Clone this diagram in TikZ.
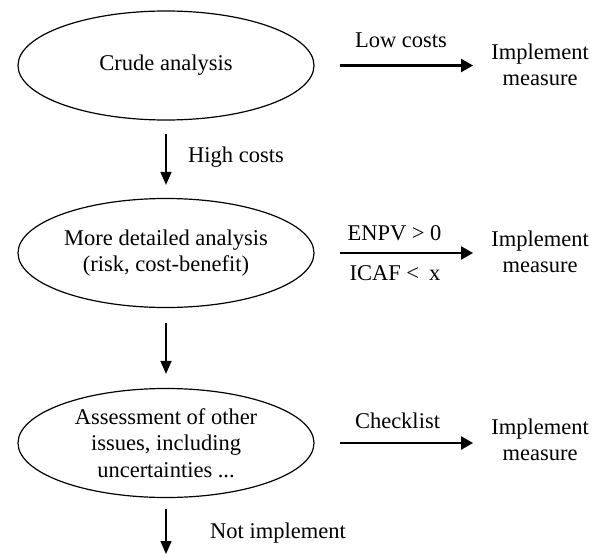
\documentclass[tikz,border=0pt]{standalone}
\usepackage{fontspec}
\setmainfont{Liberation Serif}
\usetikzlibrary{shapes.geometric,arrows.meta}
\tikzset{
  txt/.style={font=\fontsize{22.5}{26.5}\selectfont, inner sep=0pt, align=center},
  oval/.style={ellipse, draw, line width=1.2pt, minimum width=296pt, minimum height=109pt, inner sep=0pt, txt},
  harrow/.style={line width=2.2pt, -{Triangle[length=12pt,width=13pt]}},
  varrow/.style={line width=1.5pt, -{Triangle[length=13pt,width=11pt]}}
}
\begin{document}
\begin{tikzpicture}[x=1pt,y=-1pt]
\useasboundingbox (0,0) rectangle (601,556);
\node[oval] (e1) at (166,65.5) {Crude analysis};
\node[oval] (e2) at (166,253) {More detailed analysis\\(risk, cost-benefit)};
\node[oval] (e3) at (166,443) {Assessment of other\\issues, including\\uncertainties ...};
\node[txt] (i1) at (540,65) {Implement\\measure};
\node[txt] (i2) at (540,252) {Implement\\measure};
\node[txt] (i3) at (540,440) {Implement\\measure};
\node[txt] (l1) at (401,40) {Low costs};
\node[txt] (l2a) at (394.5,233) {ENPV > 0};
\node[txt] (l2b) at (395,273) {ICAF < \hspace{0.2em}x};
\node[txt] (l3) at (397.5,421) {Checklist};
\node[txt, anchor=west] (h1) at (188,157) {High costs};
\node[txt, anchor=west] (n3) at (210,533) {Not implement};
\coordinate (end3) at (166,554);
\draw[harrow, shorten <=25pt, shorten >=18pt] (e1.east) -- (e1.east -| i1.west);
\draw[harrow, shorten <=25pt, shorten >=18pt] (e2.east) -- (e2.east -| i2.west);
\draw[harrow, shorten <=25pt, shorten >=18pt] (e3.east) -- (e3.east -| i3.west);
\draw[varrow, shorten <=13pt, shorten >=13pt] (e1.south) -- (e2.north);
\draw[varrow, shorten <=15pt, shorten >=14pt] (e2.south) -- (e3.north);
\draw[varrow, shorten <=11pt] (e3.south) -- (end3);
\end{tikzpicture}
\end{document}
